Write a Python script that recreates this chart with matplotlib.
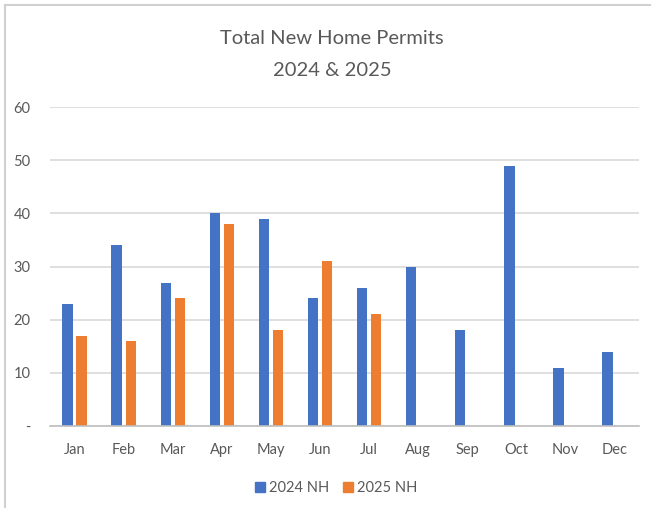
import matplotlib
matplotlib.use("Agg")
import matplotlib.pyplot as plt
import numpy as np
from matplotlib.lines import Line2D

months = ["Jan", "Feb", "Mar", "Apr", "May", "Jun",
          "Jul", "Aug", "Sep", "Oct", "Nov", "Dec"]
nh_2024 = [23, 34, 27, 40, 39, 24, 26, 30, 18, 49, 11, 14]
nh_2025 = [17, 16, 24, 38, 18, 31, 21]
yticks = [0, 10, 20, 30, 40, 50, 60]
ytick_labels = ["-", "10", "20", "30", "40", "50", "60"]

TEXT = "#595959"
plt.rcParams["font.family"] = ["Lato", "DejaVu Sans"]

fig = plt.figure(figsize=(6.51, 5.08), dpi=100)
ax = fig.add_axes([0.0768, 0.1614, 0.905, 0.6276])

x = np.arange(len(months))
w = 0.21
off = 0.143
ax.bar(x - off, nh_2024, width=w, color="#4472C4", label="2024 NH", zorder=3)
ax.bar(np.arange(len(nh_2025)) + off, nh_2025, width=w, color="#ED7D31",
       label="2025 NH", zorder=3)

ax.set_xlim(-0.5, len(months) - 0.5)
ax.set_ylim(0, 60)
ax.set_yticks(yticks)
ax.set_yticklabels(ytick_labels)
ax.set_xticks(x)
ax.set_xticklabels(months)
ax.tick_params(axis="both", length=0, colors=TEXT, labelsize=10.5)
ax.tick_params(axis="y", pad=14)
ax.tick_params(axis="x", pad=12)
ax.yaxis.grid(True, color="#D9D9D9", linewidth=1.2, zorder=0)
for s in ["top", "right", "left"]:
    ax.spines[s].set_visible(False)
ax.spines["bottom"].set_color("#BFBFBF")
ax.spines["bottom"].set_linewidth(1.2)
ax.spines["bottom"].set_zorder(4)

fig.text(0.51, 0.925, "Total New Home Permits", ha="center", va="center",
         fontsize=14.5, color=TEXT)
fig.text(0.51, 0.862, "2024 & 2025", ha="center", va="center",
         fontsize=14.5, color=TEXT)

handles = [Line2D([], [], marker="s", linestyle="", markersize=7,
                  color="#4472C4"),
           Line2D([], [], marker="s", linestyle="", markersize=7,
                  color="#ED7D31")]
fig.legend(handles, ["2024 NH", "2025 NH"], loc="center",
           bbox_to_anchor=(0.515, 0.040), ncol=2, frameon=False,
           fontsize=10.5, labelcolor=TEXT, handletextpad=0.1,
           columnspacing=0.8, handlelength=1.0)

# outer chart border (top and left visible)
fig.add_artist(Line2D([5 / 651, 1], [1 - 5 / 508, 1 - 5 / 508],
                      transform=fig.transFigure, color="#D0D0D0", lw=1.5))
fig.add_artist(Line2D([5 / 651, 5 / 651], [0, 1 - 5 / 508],
                      transform=fig.transFigure, color="#D0D0D0", lw=1.5))

fig.savefig("out.png", dpi=100)
